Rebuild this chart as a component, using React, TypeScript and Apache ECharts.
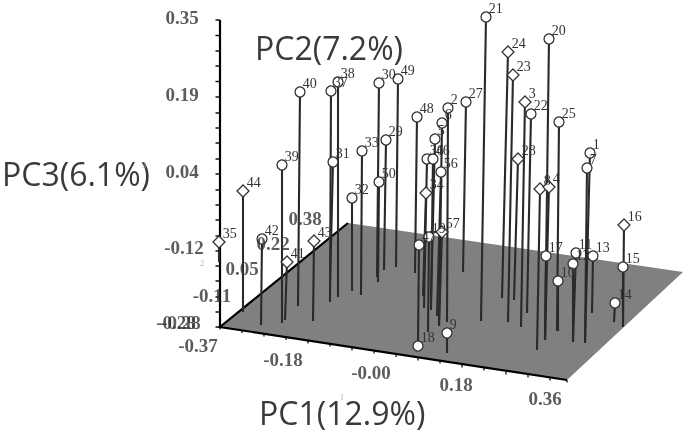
import React, { useEffect, useRef } from "react";
import * as echarts from "echarts";

// Sample identifiers and their readings, in the picture plane of the 3-D plot.
const ids = ["21","20","24","23","3","22","25","28","1","7","8","4","27","48","2","6","5","36","46","56","34","30","49","29","50","33","32","31","37","38","40","39","44","35","42","41","43","47","19","57","9","18","17","10","11","12","13","15","14","16"];
const topX = [486,549,508,513,525,531,559,518,590,587,540,549,466,417,448,442,435,427,433,441,426,379,398,386,379,362,352,333,331,338,300,282,243,219,262,287,314,419,429,442,447,418,546,558,576,573,593,623,615,624];
const topY = [17,39,52,75,102,114,122,159,153,168,189,187,102,117,108,123,139,159,159,172,193,83,79,140,182,151,198,162,91,82,92,165,191,242,239,262,241,245,237,232,333,346,256,281,253,264,256,267,303,225];
const baseX = [481,545,502,508,521,527,557,514,585,585,537,545,463,415,447,439,431,424,431,437,423,377,396,384,378,361,352,330,330,338,298,282,243,219,261,285,313,418,428,439,447,418,545,558,573,573,592,623,614,623];
const baseY = [321,340,298,322,327,313,331,300,343,343,350,340,272,273,322,326,300,308,310,316,296,277,267,270,282,295,291,287,302,297,306,323,312,262,325,320,321,343,332,326,353,350,340,331,342,342,313,327,322,327];
const diamondIds = ["24","3","8","4","28","44","35","43","41","16","57","34","23"];

// Picture-plane outline of the floor.
const floorX = [220,348,683,567];
const floorY = [327,223,272,380];

// Tick readings of the three axes.
const verticalTicks = [20,35.5,51,66,81.5,97,113,128,143,159,174,190,205,220,236,251,266,281,297,312,327];
const frontTicksX = [220,242,264,286,308,330,352,374,396,418,440,462,484,506,528,550,567];
const frontTicksY = [327,330.5,334,337.5,341,344,348,351,354.5,358,361,365,368,372,375,378,380];
const valueLabels = ["0.35","0.19","0.04","-0.12","-0.28"];
const valueLabelX = [182,182,182,184,181];
const valueLabelY = [17,94,171,247,322];
const pc2Labels = ["0.38","0.22","0.05","-0.11","-0.28"];
const pc2LabelX = [305,273,242,212,176];
const pc2LabelY = [218,243,268,295,322];
const pc1Labels = ["-0.37","-0.18","-0.00","0.18","0.36"];
const pc1LabelX = [198,283,371,456,545];
const pc1LabelY = [345,359,372,384,398];
const faintLabels = ["3","2","1"];
const faintX = [144,202,342];
const faintY = [165,263,397];

const textPoints = (names: string[], xs: number[], ys: number[]) =>
  names.map((name, i) => ({ name, value: [xs[i], ys[i]] }));

export default function App() {
  const ref = useRef<HTMLDivElement>(null);
  useEffect(() => {
    const chart = echarts.init(ref.current!, undefined, { renderer: "svg" });
    const serif = "'Liberation Serif', 'Times New Roman', serif";
    const titleFont = "'Open Sans', 'Noto Sans', sans-serif";
    const titleStyle = { font: `32px ${titleFont}`, fill: "#3a3a3a", textVerticalAlign: "middle", verticalAlign: "middle" };
    chart.setOption({
      animation: false,
      backgroundColor: "#fff",
      grid: { left: 0, right: 0, top: 0, bottom: 0 },
      xAxis: { type: "value", min: 0, max: 685, show: false },
      yAxis: { type: "value", min: 0, max: 433, inverse: true, show: false },
      graphic: [
        { type: "text", x: 255, y: 47, silent: true, style: { text: "PC2(7.2%)", ...titleStyle } },
        { type: "text", x: 2, y: 173, silent: true, style: { text: "PC3(6.1%)", ...titleStyle } },
        { type: "text", x: 259, y: 412, silent: true, style: { text: "PC1(12.9%)", ...titleStyle } },
      ],
      series: [
        {
          type: "custom",
          silent: true,
          clip: false,
          data: [0],
          renderItem: (_: any, api: any) => ({
            type: "group",
            children: [
              {
                type: "polygon",
                shape: { points: floorX.map((x, i) => api.coord([x, floorY[i]])) },
                style: { fill: "#808080", stroke: "none" },
              },
              {
                type: "polyline",
                shape: { points: [api.coord([floorX[1], floorY[1]]), api.coord([floorX[0], floorY[0]]), api.coord([floorX[3], floorY[3]])] },
                style: { fill: "none", stroke: "#000", lineWidth: 2.2 },
              },
              {
                type: "line",
                shape: (() => {
                  const a = api.coord([220, verticalTicks[0]]);
                  const b = api.coord([220, floorY[0]]);
                  return { x1: a[0], y1: a[1], x2: b[0], y2: b[1] };
                })(),
                style: { stroke: "#000", lineWidth: 2.2 },
              },
              ...verticalTicks.map((y) => {
                const a = api.coord([215.5, y]);
                const b = api.coord([220, y]);
                return { type: "line", shape: { x1: a[0], y1: a[1], x2: b[0], y2: b[1] }, style: { stroke: "#000", lineWidth: 1.4 } };
              }),
              ...frontTicksX.map((x, i) => {
                const a = api.coord([x, frontTicksY[i]]);
                const b = api.coord([x, frontTicksY[i] + 2.5]);
                return { type: "line", shape: { x1: a[0], y1: a[1], x2: b[0], y2: b[1] }, style: { stroke: "#000", lineWidth: 1.2 } };
              }),
            ],
          }),
        },
        {
          type: "custom",
          silent: true,
          clip: false,
          data: ids.map((id, i) => [topX[i], topY[i], baseX[i], baseY[i]]),
          encode: { x: [0, 2], y: [1, 3] },
          renderItem: (_: any, api: any) => {
            const a = api.coord([api.value(0), api.value(1)]);
            const b = api.coord([api.value(2), api.value(3)]);
            return {
              type: "line",
              shape: { x1: a[0], y1: a[1], x2: b[0], y2: b[1] },
              style: { stroke: "#2a2a2a", lineWidth: 2.1 },
            };
          },
        },
        {
          type: "scatter",
          silent: true,
          clip: false,
          data: ids.map((id, i) => ({
            name: id,
            value: [topX[i], topY[i]],
            symbol: diamondIds.includes(id) ? "diamond" : "circle",
            symbolSize: diamondIds.includes(id) ? 12 : 10,
          })),
          itemStyle: { color: "#fff", borderColor: "#333", borderWidth: 1.3, opacity: 1 },
          label: {
            show: true,
            formatter: "{b}",
            position: "right",
            distance: 0,
            offset: [-3, -9],
            fontFamily: serif,
            fontSize: 14,
            color: "#333",
          },
        },
        ...[
          textPoints(valueLabels, valueLabelX, valueLabelY),
          textPoints(pc2Labels, pc2LabelX, pc2LabelY),
          textPoints(pc1Labels, pc1LabelX, pc1LabelY),
        ].map((data) => ({
          type: "scatter",
          silent: true,
          clip: false,
          symbolSize: 1,
          itemStyle: { color: "transparent" },
          data,
          label: {
            show: true,
            formatter: "{b}",
            position: "inside",
            fontFamily: serif,
            fontWeight: "bold",
            fontSize: 19,
            color: "#333",
          },
        })),
        {
          type: "scatter",
          silent: true,
          clip: false,
          symbolSize: 1,
          itemStyle: { color: "transparent" },
          data: textPoints(faintLabels, faintX, faintY),
          label: { show: true, formatter: "{b}", position: "inside", fontFamily: serif, fontSize: 9, color: "#aaa" },
        },
      ],
    });
    return () => chart.dispose();
  }, []);
  return (
    <div
      ref={ref}
      style={{ position: "fixed", left: 0, top: 0, width: 685, height: 433, filter: "blur(0.5px)" }}
    />
  );
}
